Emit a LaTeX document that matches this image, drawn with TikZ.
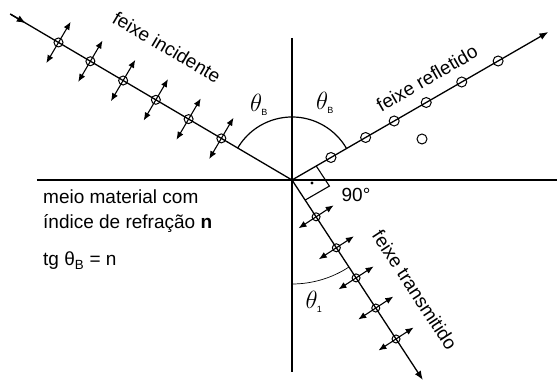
\documentclass[tikz,border=0pt]{standalone}
\usepackage{fontspec}
\setmainfont{Liberation Sans}
\usetikzlibrary{arrows.meta,calc}
\begin{document}
\begin{tikzpicture}[x=1pt,y=1pt,
  axis/.style={line width=1.8pt},
  ray/.style={line width=1.3pt},
  tip/.style={-{Latex[length=9pt,width=7pt]}},
  pol/.style={line width=1.1pt,{Latex[length=8pt,width=6.5pt]}-{Latex[length=8pt,width=6.5pt]}},
  circ/.style={line width=1pt},
  lbl/.style={font=\fontsize{19}{22}\selectfont, inner sep=0pt},
  ang/.style={font=\fontsize{24}{26}\selectfont, inner sep=0pt}]
\useasboundingbox (-292,-202) rectangle (265,180);
\coordinate (O) at (0,0);
% axes
\coordinate (VT) at (0,142);
\coordinate (VB) at (0,-192);
\coordinate (HL) at (-255,0);
\coordinate (HR) at (265,0);
\draw[axis] (VT) -- (VB);
\draw[axis] (HL) -- (HR);
% incident beam
\coordinate (IS) at (149.5:327);
\coordinate (IT) at (149.5:309);
\draw[ray] (IS) -- (O);
\draw[ray,tip] (IS) -- (IT);
\foreach \d in {82,120,158,196,234,271}{
  \draw[circ] (149.5:\d) circle (4.5);
  \draw[pol] ($(149.5:\d)+(239.5:24)$) -- ($(149.5:\d)+(59.5:24)$);
}
% reflected beam
\coordinate (RE) at (30:296);
\draw[ray,tip] (O) -- (RE);
\foreach \d in {45,85,118,155,196,238}{
  \draw[circ] (30:\d) circle (5);
}
\draw[circ] (130,41) circle (5);
% transmitted beam
\coordinate (TE) at (-56.8:239);
\draw[ray,tip] (O) -- (TE);
\foreach \d in {44,81,117,153,190}{
  \draw[circ] (-56.8:\d) circle (4);
  \draw[pol] ($(-56.8:\d)+(213.2:21)$) -- ($(-56.8:\d)+(33.2:21)$);
}
% angle arcs
\draw[line width=1.2pt] (149.5:63) arc[start angle=149.5,end angle=30,radius=63];
\draw[line width=0.7pt] (-90:104) arc[start angle=-90,end angle=-56.8,radius=104];
% right angle mark
\draw[line width=1.1pt] (30:28) -- ($(30:28)+(-56.8:24)$) -- (-56.8:24);
\fill (20,-3) circle (1.6);
% labels
\node[ang] (tbl) at (-33,75) {$\theta_{\hbox{\fontsize{9}{9}\selectfont B}}$};
\node[ang] (tbr) at (33,77) {$\theta_{\hbox{\fontsize{9}{9}\selectfont B}}$};
\node[ang] (tt) at (22,-122) {$\theta_{\hbox{\fontsize{9}{9}\selectfont 1}}$};
\node[lbl] (ninety) at (64,-15) {90°};
\node[lbl, rotate=-30.5] (li) at (-125,133) {feixe incidente};
\node[lbl, rotate=30] (lr) at (135,102) {feixe refletido};
\node[lbl, rotate=-56.8] (lt) at (123,-110) {feixe transmitido};
\node[lbl, anchor=base west] (m1) at (-249,-24) {meio material com};
\node[lbl, anchor=base west] (m2) at (-249,-49) {índice de refração \textbf{n}};
\node[lbl, anchor=base west] (m3) at (-249,-86) {tg θ\textsubscript{B} = n};
\end{tikzpicture}
\end{document}
